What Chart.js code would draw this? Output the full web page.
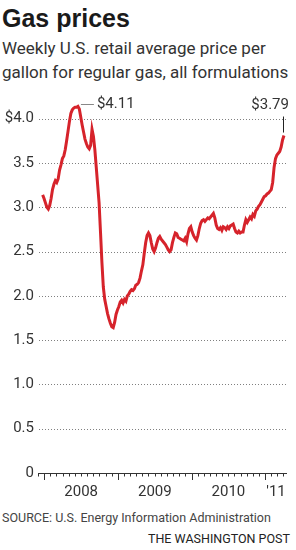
<!doctype html>
<html lang="en">
<head>
<meta charset="utf-8">
<title>Gas prices</title>
<script src="https://cdn.jsdelivr.net/npm/chart.js@4.4.1/dist/chart.umd.min.js"></script>
<style>
  html, body { margin: 0; padding: 0; }
  body { background: #fff; width: 296px; height: 550px; overflow: hidden; position: relative; }
  #wrap { position: absolute; left: 0; top: 90px; width: 296px; height: 420px; }
  .txt { position: absolute; white-space: nowrap; }
  .hed { left: 2px; top: 6px; font: bold 25px/25px "Liberation Sans", Arial, sans-serif; color: #1a1a1a; }
  .dek { left: 2px; top: 36px; font: 17px/24px Roboto, sans-serif; color: #333; }
  .src { left: 2px; top: 510px; font: 12.5px/16px Roboto, sans-serif; color: #444; }
  .credit { right: 6px; top: 531px; font: 12.5px/16px Roboto, sans-serif; color: #222; }
</style>
</head>
<body>
<div id="wrap"><canvas id="gasChart" width="296" height="420"></canvas></div>
<div class="txt hed">Gas prices</div>
<div class="txt dek">Weekly U.S. retail average price per<br>gallon for regular gas, all formulations</div>
<div class="txt src">SOURCE: U.S. Energy Information Administration</div>
<div class="txt credit">THE WASHINGTON POST</div>
<script>
// weekly prices, $ per gallon, first week starting Monday Dec 24 2007
const firstWeek = '2007-12-24';
const prices2007 = [3.14, 3.10];
const prices2008 = [3.05, 3.00, 2.98, 3.02, 3.10, 3.20, 3.26, 3.30, 3.28, 3.32, 3.42, 3.48, 3.55,
  3.58, 3.65, 3.75, 3.86, 3.97, 4.06, 4.10, 4.12, 4.13, 4.13, 4.14, 4.11, 4.02, 3.93, 3.85,
  3.77, 3.72, 3.68, 3.66, 3.70, 3.88, 3.80, 3.65, 3.45, 3.25, 3.05, 2.72, 2.38, 2.10, 1.96,
  1.88, 1.80, 1.74, 1.69, 1.65, 1.64, 1.70, 1.79, 1.84];
const prices2009 = [1.88, 1.93, 1.95, 1.92, 1.96, 1.94, 2.00, 2.02, 2.05, 2.07, 2.06, 2.08, 2.12,
  2.13, 2.15, 2.20, 2.28, 2.35, 2.48, 2.60, 2.68, 2.71, 2.68, 2.60, 2.53, 2.50, 2.54, 2.60,
  2.65, 2.67, 2.64, 2.62, 2.60, 2.58, 2.55, 2.52, 2.50, 2.52, 2.60, 2.66, 2.71, 2.70, 2.66,
  2.65, 2.64, 2.63, 2.62, 2.65, 2.61, 2.70, 2.76, 2.78];
const prices2010 = [2.72, 2.68, 2.65, 2.63, 2.68, 2.76, 2.82, 2.85, 2.86, 2.84, 2.86, 2.88, 2.87,
  2.89, 2.91, 2.93, 2.88, 2.80, 2.76, 2.75, 2.77, 2.74, 2.78, 2.77, 2.75, 2.78, 2.76, 2.79,
  2.80, 2.81, 2.76, 2.72, 2.71, 2.73, 2.71, 2.72, 2.72, 2.80, 2.86, 2.83, 2.86, 2.89, 2.87,
  2.92, 2.90, 2.96, 2.98, 3.01, 3.03, 3.06, 3.09, 3.12];
const prices2011 = [3.13, 3.15, 3.16, 3.18, 3.20, 3.28, 3.45, 3.55, 3.59, 3.61, 3.63, 3.68, 3.76, 3.81];

const yTicks = [0, 0.5, 1, 1.5, 2, 2.5, 3, 3.5, 4];
const yLabels = ['0', '0.5', '1.0', '1.5', '2.0', '2.5', '3.0', '3.5', '$4.0'];
const yearLabels = ['2008', '2009', '2010', "'11"];
const years = [2008, 2009, 2010, 2011];
const peakLabel = '$4.11';
const lastLabel = '$3.79';

const DAY = 86400000;
const jan2008 = Date.UTC(2008, 0, 1);
const dayOf = (yr, m, d) => (Date.UTC(yr, m, d) - jan2008) / DAY;
const xMin = dayOf(2007, 11, 1);
const xMax = dayOf(2011, 3, 18);

const prices = [].concat(prices2007, prices2008, prices2009, prices2010, prices2011);
const firstDay = (Date.parse(firstWeek) - jan2008) / DAY;
const points = prices.map((p, i) => ({ x: firstDay + i * 7, y: p }));

// label each year in the middle of its visible span
const yearPos = years.map(yr => {
  const a = Math.max(dayOf(yr, 0, 1), xMin);
  const b = Math.min(dayOf(yr + 1, 0, 1), xMax);
  return (a + b) / 2;
});

// month tick marks under the axis
const monthTicks = [];
for (let yr = 2007; yr <= 2011; yr++) {
  for (let m = 0; m < 12; m++) {
    const d = dayOf(yr, m, 1);
    if (d >= xMin && d <= xMax) monthTicks.push({ day: d, major: m === 0 });
  }
}

const gridDots = {
  id: 'gridDots',
  beforeDatasetsDraw(chart) {
    const ctx = chart.ctx;
    const area = chart.chartArea;
    const sy = chart.scales.y;
    ctx.save();
    ctx.fillStyle = '#808080';
    for (let i = 1; i < yTicks.length; i++) {
      const py = Math.round(sy.getPixelForValue(yTicks[i]));
      for (let px = Math.ceil(area.left) + 1; px < area.right; px += 3) {
        ctx.fillRect(px, py, 1, 1);
      }
    }
    ctx.restore();
  }
};

const decor = {
  id: 'decor',
  afterDraw(chart) {
    const ctx = chart.ctx;
    const area = chart.chartArea;
    const sx = chart.scales.x;
    const sy = chart.scales.y;
    ctx.save();

    // y labels
    ctx.fillStyle = '#333';
    ctx.font = '15px Roboto';
    ctx.textBaseline = 'middle';
    ctx.textAlign = 'right';
    for (let i = 0; i < yTicks.length; i++) {
      ctx.fillText(yLabels[i], area.left - 4, sy.getPixelForValue(yTicks[i]));
    }

    // month ticks
    ctx.strokeStyle = '#333';
    ctx.lineWidth = 1;
    ctx.beginPath();
    monthTicks.forEach(t => {
      const px = Math.round(sx.getPixelForValue(t.day)) + 0.5;
      ctx.moveTo(px, area.bottom);
      ctx.lineTo(px, area.bottom + (t.major ? 7 : 3.5));
    });
    ctx.stroke();

    // callouts
    const meta = chart.getDatasetMeta(0).data;
    let pk = 0;
    prices.forEach((p, i) => { if (p > prices[pk]) pk = i; });
    const a = meta[pk];
    ctx.strokeStyle = '#888';
    ctx.beginPath();
    ctx.moveTo(a.x + 3, Math.round(a.y - 2) + 0.5);
    ctx.lineTo(a.x + 16, Math.round(a.y - 2) + 0.5);
    ctx.stroke();
    ctx.textAlign = 'left';
    ctx.fillText(peakLabel, a.x + 19, a.y - 2);

    const b = meta[meta.length - 1];
    ctx.strokeStyle = '#222';
    ctx.beginPath();
    ctx.moveTo(Math.round(b.x) - 0.5, b.y - 3);
    ctx.lineTo(Math.round(b.x) - 0.5, b.y - 19);
    ctx.stroke();
    ctx.textAlign = 'right';
    ctx.fillText(lastLabel, b.x + 5, b.y - 30);
    ctx.restore();
  }
};

new Chart(document.getElementById('gasChart'), {
  type: 'line',
  data: {
    datasets: [{
      data: points,
      borderColor: '#d6232b',
      borderWidth: 3,
      pointRadius: 0,
      tension: 0,
      fill: false
    }]
  },
  options: {
    responsive: false,
    animation: false,
    layout: { padding: { top: 11, right: 6, bottom: 7, left: 0 } },
    plugins: { legend: { display: false }, tooltip: { enabled: false } },
    scales: {
      x: {
        type: 'linear',
        min: xMin,
        max: xMax,
        afterBuildTicks: s => { s.ticks = yearPos.map(v => ({ value: v })); },
        afterFit: s => { s.height = 30; },
        grid: { display: false, drawTicks: false },
        border: { display: true, color: '#333', width: 1 },
        ticks: {
          autoSkip: false,
          maxRotation: 0,
          padding: 10,
          color: '#333',
          font: { family: 'Roboto', size: 15 },
          callback: (v, i) => yearLabels[i]
        }
      },
      y: {
        min: 0,
        max: 4.2,
        afterFit: s => { s.width = 38; },
        grid: { display: false, drawTicks: false },
        border: { display: false },
        ticks: { display: false }
      }
    }
  },
  plugins: [gridDots, decor]
});
</script>
</body>
</html>
